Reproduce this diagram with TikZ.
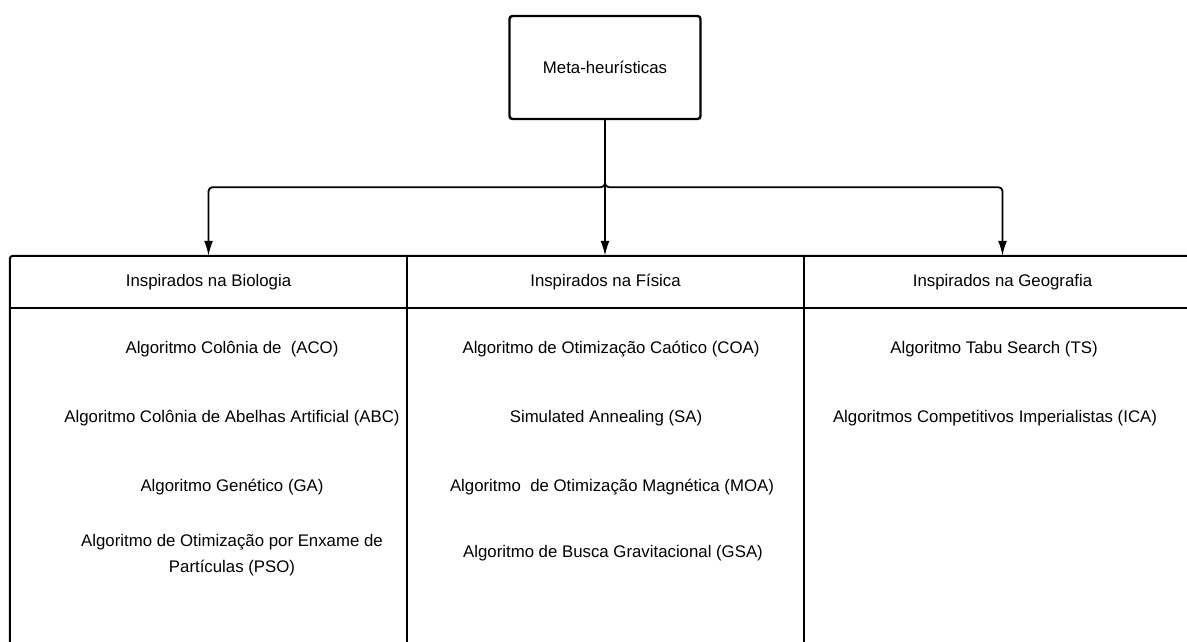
\documentclass[tikz,border=0pt]{standalone}
\usepackage{fontspec}
\setmainfont{Liberation Sans}
\usetikzlibrary{arrows.meta,positioning}

\tikzset{
  caixa/.style={draw, line width=2.4pt, rounded corners=3pt,
    minimum width=191pt, minimum height=103pt},
  cabec/.style={minimum width=397pt, minimum height=52pt, inner sep=0pt},
  seta/.style={-{Latex[length=15pt,width=9pt]}, line width=1.8pt},
  grade/.style={line width=2pt}
}

\begin{document}
\begin{tikzpicture}[x=1pt,y=-1pt,font=\fontsize{16.8}{26}\selectfont]
    \useasboundingbox (0,0) rectangle (1187,642);
    \node[caixa] (meta) at (605,67.5) {Meta-heurísticas};
    \node[cabec] (bio) at (208.5,282) {Inspirados na Biologia};
    \node[cabec] (fis) at (605.5,282) {Inspirados na Física};
    \node[cabec] (geo) at (1002.5,282) {Inspirados na Geografia};
    % tabela
    \draw[grade, rounded corners=3pt] (bio.north west |- 0,660) -- (bio.north west) -- (geo.north east);
    \draw[grade] (bio.south west) -- (geo.south east);
    \draw[grade] (bio.north east) -- (bio.north east |- 0,660);
    \draw[grade] (fis.north east) -- (fis.north east |- 0,660);
    % setas
    \draw[seta] (meta.south) -- (meta.south |- fis.north);
    \draw[seta, rounded corners=4pt] (meta.south) -- ++(0,67) -| (bio.north);
    \draw[seta, rounded corners=4pt] (meta.south) -- ++(0,67) -| (geo.north);
    % biologia
    \node (aco) at (232,349) {Algoritmo Colônia de\ \ (ACO)};
    \node (abc) at (232,418) {Algoritmo Colônia de Abelhas Artificial (ABC)};
    \node (ga) at (232,487) {Algoritmo Genético (GA)};
    \node[align=center] (pso) at (232,555) {Algoritmo de Otimização por Enxame de\\Partículas (PSO)};
    % fisica
    \node (coa) at (611,349) {Algoritmo de Otimização Caótico (COA)};
    \node (sa) at (606,418) {Simulated Annealing (SA)};
    \node (moa) at (612,487) {Algoritmo\ \ de Otimização Magnética (MOA)};
    \node (gsa) at (613,553) {Algoritmo de Busca Gravitacional (GSA)};
    % geografia
    \node (ts) at (994,349) {Algoritmo Tabu Search (TS)};
    \node (ica) at (995,418) {Algoritmos Competitivos Imperialistas (ICA)};
\end{tikzpicture}
\end{document}
